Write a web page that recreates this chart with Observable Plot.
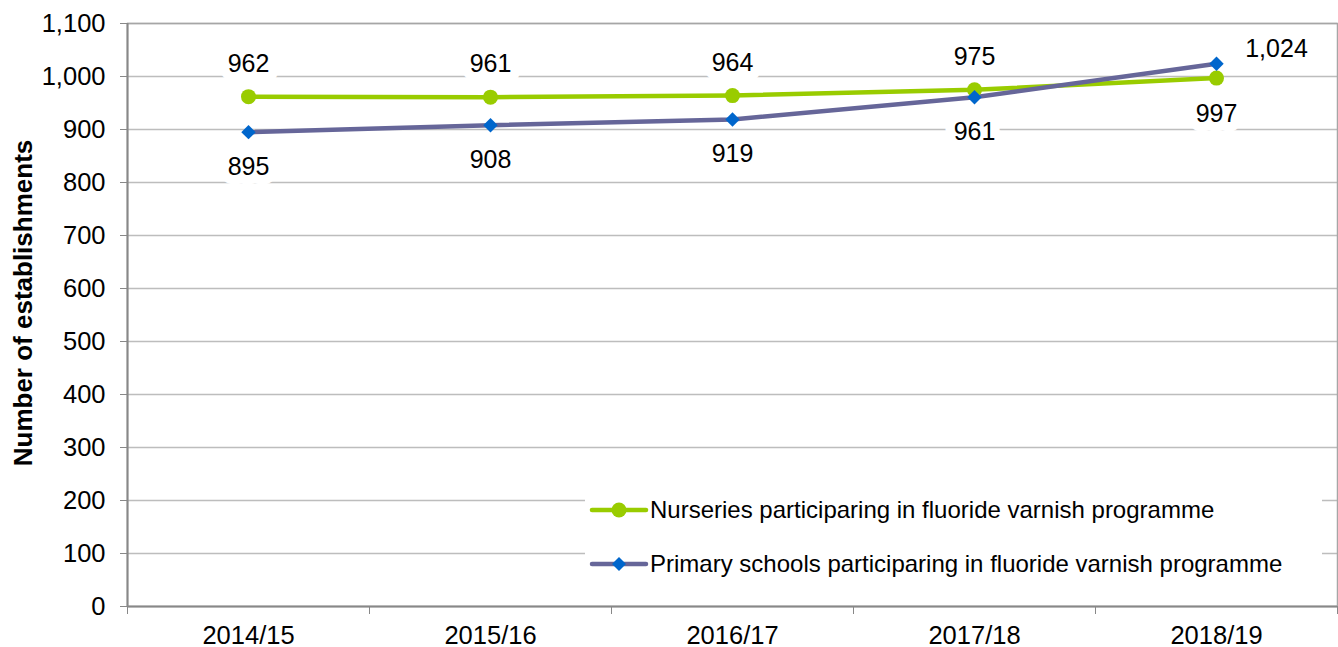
<!DOCTYPE html>
<html>
<head>
<meta charset="utf-8">
<script src="https://cdn.jsdelivr.net/npm/d3@7"></script>
<script src="https://cdn.jsdelivr.net/npm/@observablehq/plot@0.6"></script>
<style>
  html, body { margin: 0; padding: 0; background: #fff; }
  #wrap { position: relative; width: 1338px; height: 647px; font-family: "Liberation Sans", Arial, sans-serif; }
  #legend { position: absolute; left: 585px; top: 482px; width: 737px; height: 106px; background: #fff; }
  #legend svg { display: block; }
</style>
</head>
<body>
<div id="wrap"><div id="chart"></div><div id="legend"></div></div>
<script>
const years = ["2014/15", "2015/16", "2016/17", "2017/18", "2018/19"];
const nurseries = [962, 961, 964, 975, 997];
const primary = [895, 908, 919, 961, 1024];
const seriesNames = [
  "Nurseries participaring in fluoride varnish programme",
  "Primary schools participaring in fluoride varnish programme"
];
const yTicks = [0, 100, 200, 300, 400, 500, 600, 700, 800, 900, 1000, 1100];
const yLabel = "Number of establishments";

const colors = { lineN: "#99CC00", dotN: "#99CC00", lineP: "#666699", dotP: "#0066CC" };
const font = "Liberation Sans, Arial, sans-serif";
const fmt = d3.format(",");

const rowsN = nurseries.map((v, i) => ({ x: i + 0.5, value: v, other: primary[i], i }));
const rowsP = primary.map((v, i) => ({ x: i + 0.5, value: v, other: nurseries[i], i }));

const labelStyle = { fontSize: 25, fill: "#000", stroke: "#fff", strokeWidth: 19, strokeLinejoin: "round", paintOrder: "stroke" };

const chart = Plot.plot({
  width: 1338,
  height: 647,
  marginLeft: 127,
  marginRight: 1,
  marginTop: 23,
  marginBottom: 41,
  style: { fontFamily: font, background: "#fff", overflow: "visible" },
  x: { type: "linear", domain: [0, years.length] },
  y: { domain: [0, 1100] },
  marks: [
    Plot.gridY(yTicks.filter(d => d > 0), { stroke: "#bdbdbd", strokeOpacity: 1, strokeWidth: 1.5 }),
    Plot.frame({ stroke: "#a6a6a6", strokeWidth: 1.5 }),
    Plot.axisY(yTicks, { tickFormat: fmt, tickSize: 7, tickPadding: 15, fontSize: 25.5, stroke: "#888", label: null, color: "#000" }),
    Plot.axisX(d3.range(years.length + 1), { tickSize: 8, tickFormat: () => "", stroke: "#888", label: null }),
    Plot.axisX(years.map((d, i) => i + 0.5), { tickSize: 0, tickPadding: 19, tickFormat: d => years[Math.round(d - 0.5)], fontSize: 25.5, label: null }),
    Plot.ruleX([0], { stroke: "#888", strokeWidth: 2 }),
    Plot.ruleY([0], { stroke: "#888", strokeWidth: 2 }),
    Plot.text([yLabel], { frameAnchor: "left", textAnchor: "middle", rotate: -90, dx: -104, dy: -12, fontSize: 26, fontWeight: "bold", fill: "#000" }),
    Plot.line(rowsN, { x: "x", y: "value", stroke: colors.lineN, strokeWidth: 4.5 }),
    Plot.line(rowsP, { x: "x", y: "value", stroke: colors.lineP, strokeWidth: 4.5 }),
    Plot.dot(rowsN, { x: "x", y: "value", r: 7.5, fill: colors.dotN, stroke: "none" }),
    Plot.dot(rowsP, { x: "x", y: "value", r: 6.5, symbol: "diamond2", fill: colors.dotP, stroke: "none" }),
    // nursery labels: above when the series is higher, below otherwise
    Plot.text(rowsN.filter(d => d.value >= d.other), { x: "x", y: "value", text: d => fmt(d.value), dy: -33, ...labelStyle }),
    Plot.text(rowsN.filter(d => d.value < d.other), { x: "x", y: "value", text: d => fmt(d.value), dy: 36, ...labelStyle }),
    // primary labels: below when lower, to the upper right when higher
    Plot.text(rowsP.filter(d => d.value < d.other), { x: "x", y: "value", text: d => fmt(d.value), dy: 34.5, ...labelStyle }),
    Plot.text(rowsP.filter(d => d.value >= d.other), { x: "x", y: "value", text: d => fmt(d.value), dx: 60, dy: -15, ...labelStyle })
  ]
});
document.getElementById("chart").appendChild(chart);

// legend
const legendItems = [
  { name: seriesNames[0], line: colors.lineN, dot: colors.dotN, symbol: "circle", y: 28 },
  { name: seriesNames[1], line: colors.lineP, dot: colors.dotP, symbol: "diamond", y: 82 }
];
const lg = d3.select("#legend").append("svg").attr("width", 737).attr("height", 106);
legendItems.forEach(it => {
  const g = lg.append("g");
  g.append("line").attr("x1", 7).attr("x2", 61).attr("y1", it.y).attr("y2", it.y)
    .attr("stroke", it.line).attr("stroke-width", 4.5).attr("stroke-linecap", "round");
  if (it.symbol === "circle") {
    g.append("circle").attr("cx", 34).attr("cy", it.y).attr("r", 7.5).attr("fill", it.dot);
  } else {
    g.append("path").attr("d", `M34,${it.y - 7}L41,${it.y}L34,${it.y + 7}L27,${it.y}Z`).attr("fill", it.dot);
  }
  g.append("text").attr("x", 65).attr("y", it.y).attr("dy", "0.35em")
    .attr("font-size", 24).attr("font-family", font).attr("fill", "#000").text(it.name);
});
</script>
</body>
</html>
